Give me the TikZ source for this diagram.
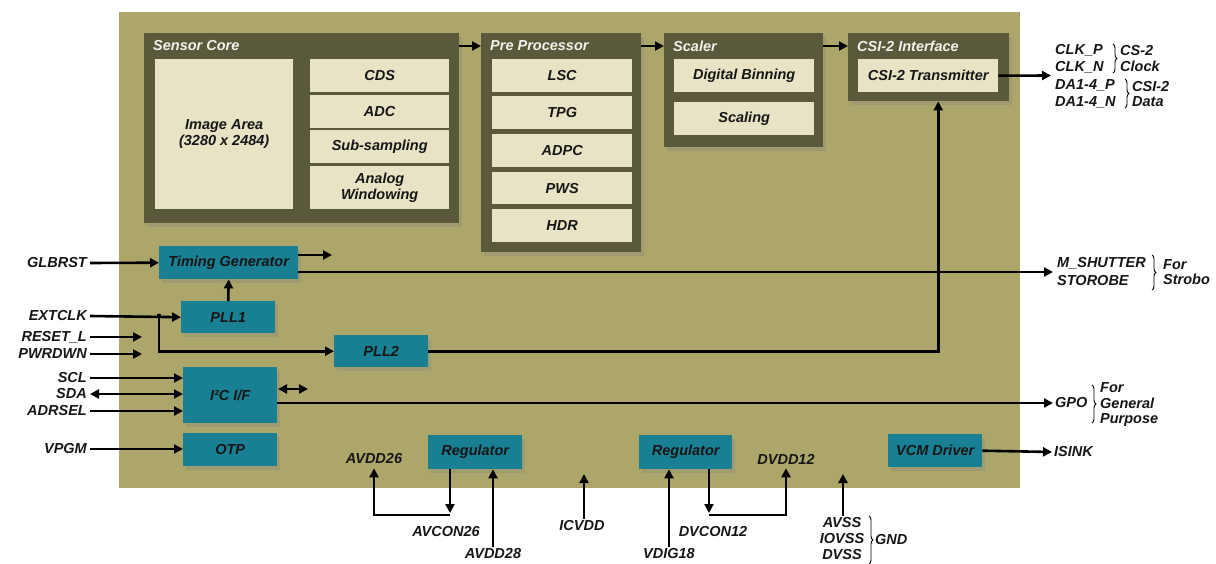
\documentclass[tikz,border=0pt]{standalone}
\usepackage{fontspec}
\setmainfont{Liberation Sans}
\usetikzlibrary{arrows.meta,shadows,decorations.pathreplacing}
\definecolor{chipbg}{HTML}{ADA66A}
\definecolor{chipdark}{HTML}{5A593B}
\definecolor{chiplight}{HTML}{E8E3C5}
\definecolor{chipteal}{HTML}{197F92}
\definecolor{ttltext}{HTML}{F2F2EA}
\definecolor{ink}{HTML}{161616}
\newcommand\boxnode[7]{\node[#1, anchor=north west, minimum width={(#5)-(#3)}, minimum height={(#6)-(#4)}] (#2) at (#3,#4) {#7};}
\tikzset{
  every node/.style={font=\fontsize{14.5}{15.5}\selectfont\bfseries\itshape, text=ink},
  shd/.style={drop shadow={shadow xshift=3pt, shadow yshift=-4pt, opacity=0.3}},
  darkbox/.style={fill=chipdark, draw=none, inner sep=0pt, shd},
  lightbox/.style={fill=chiplight, draw=none, inner sep=0pt, align=center},
  tealbox/.style={fill=chipteal, draw=none, inner sep=0pt, align=center, shd},
  ttl/.style={anchor=west, inner sep=0pt, text=ttltext},
  lbl/.style={inner sep=2pt},
  lblE/.style={anchor=east, inner sep=3pt},
  lblW/.style={anchor=west, inner sep=2pt, align=left},
  arr/.style={line width=2.6pt, -{Triangle[length=9pt,width=9pt]}},
  darr/.style={line width=2.6pt, {Triangle[length=9pt,width=9pt]}-{Triangle[length=9pt,width=9pt]}},
  brc/.style={line width=0.9pt, decorate, decoration={brace, amplitude=4pt}},
}
\begin{document}
\begin{tikzpicture}[x=1pt,y=-1pt]
\useasboundingbox (0,0) rectangle (1216,564);
\boxnode{fill=chipbg, draw=none, inner sep=0pt}{chip}{119}{12}{1020}{488}{}

% Sensor core
\boxnode{darkbox}{sc}{144}{33}{459}{223}{}
\node[ttl] (sct) at (153,46) {Sensor Core};
\boxnode{lightbox}{img}{155}{59}{293}{209}{Image Area\\(3280 x 2484)}
\boxnode{lightbox}{cds}{310}{59}{449}{92}{CDS}
\boxnode{lightbox}{adc}{310}{95}{449}{128}{ADC}
\boxnode{lightbox}{sub}{310}{130}{449}{163}{Sub-sampling}
\boxnode{lightbox}{awin}{310}{166}{449}{209}{Analog\\Windowing}

% Pre processor
\boxnode{darkbox}{pp}{481}{33}{641}{252}{}
\node[ttl] (ppt) at (490,46) {Pre Processor};
\boxnode{lightbox}{lsc}{492}{59}{632}{92}{LSC}
\boxnode{lightbox}{tpg}{492}{96}{632}{129}{TPG}
\boxnode{lightbox}{adpc}{492}{134}{632}{167}{ADPC}
\boxnode{lightbox}{pws}{492}{172}{632}{204}{PWS}
\boxnode{lightbox}{hdr}{492}{209}{632}{242}{HDR}

% Scaler
\boxnode{darkbox}{scl}{664}{33}{823}{147}{}
\node[ttl] (sclt) at (673,46) {Scaler};
\boxnode{lightbox}{dbin}{674}{59}{814}{92}{Digital Binning}
\boxnode{lightbox}{scal}{674}{102}{814}{135}{Scaling}

% CSI-2
\boxnode{darkbox}{csi}{848}{33}{1009}{101}{}
\node[ttl] (csit) at (857,46) {CSI-2 Interface};
\boxnode{lightbox}{tx}{858}{59}{998}{92}{CSI-2 Transmitter}

\draw[arr] ([yshift=-13pt]sc.north east) -- ([yshift=-13pt]pp.north west);
\draw[arr] ([yshift=-13pt]pp.north east) -- ([yshift=-13pt]scl.north west);
\draw[arr] ([yshift=-13pt]scl.north east) -- ([yshift=-13pt]csi.north west);

% teal blocks
\boxnode{tealbox}{tg}{159}{246}{298}{279}{Timing Generator}
\boxnode{tealbox}{pll1}{181}{301}{275}{333}{PLL1}
\boxnode{tealbox}{pll2}{334}{335}{428}{367}{PLL2}
\boxnode{tealbox}{i2c}{183}{367}{277}{423}{I²C I/F}
\boxnode{tealbox}{otp}{183}{433}{277}{466}{OTP}
\boxnode{tealbox}{reg1}{428}{435}{522}{469}{Regulator}
\boxnode{tealbox}{reg2}{639}{435}{732}{469}{Regulator}
\boxnode{tealbox}{vcm}{888}{434}{982}{467}{VCM Driver}

% left labels
\node[lblE] (glbrst) at (90,263) {GLBRST};
\node[lblE] (extclk) at (90,316) {EXTCLK};
\node[lblE] (resetl) at (90,337) {RESET\_L};
\node[lblE] (pwrdwn) at (90,354) {PWRDWN};
\node[lblE] (sclk) at (90,378) {SCL};
\node[lblE] (sda) at (90,394) {SDA};
\node[lblE] (adrsel) at (90,411) {ADRSEL};
\node[lblE] (vpgm) at (90,449) {VPGM};
\coordinate (rst) at (142,337);
\coordinate (pwd) at (142,354);
\coordinate (jn) at (159,316);

\draw[arr] (glbrst.east) -- (tg.west);
\draw[arr] (extclk.east) -- (pll1.west);
\fill (jn) circle (2.4pt);
\draw[arr] (jn) |- (pll2.west);
\draw[arr] (resetl.east) -- (rst);
\draw[arr] (pwrdwn.east) -- (pwd);
\draw[arr] (sclk.east) -- (sclk.east -| i2c.west);
\draw[darr] (sda.east) -- (sda.east -| i2c.west);
\draw[arr] (adrsel.east) -- (adrsel.east -| i2c.west);
\draw[arr] (vpgm.east) -- (vpgm.east -| otp.west);
\draw[arr] (pll1.north) -- (tg.south);

% timing generator outputs
\coordinate (tgstub) at (332,255);
\draw[arr] (tg.east |- tgstub) -- (tgstub);
\node[lblW] (msh) at (1055,263) {M\_SHUTTER};
\node[lblW] (stb) at (1055,281) {STOROBE};
\coordinate (mshtip) at (1053,272);
\draw[arr] (tg.east |- mshtip) -- (mshtip);
\draw[brc] (1152,255) -- (1152,290);
\node[lblW] (forst) at (1161,272) {For\\Strobo};

% PLL2 to CSI
\draw[arr] (pll2.east) -| ([xshift=9.5pt]csi.south);

% CSI outputs
\node[lblW] (clkp) at (1053,50) {CLK\_P};
\node[lblW] (clkn) at (1053,67) {CLK\_N};
\node[lblW] (dap) at (1053,85) {DA1-4\_P};
\node[lblW] (dan) at (1053,102) {DA1-4\_N};
\coordinate (txtip) at (1051,75.5);
\draw[arr] (tx.east) -- (txtip);
\draw[brc] (1113,44) -- (1113,73);
\node[lblW] (csclk) at (1118,58.5) {CS-2\\Clock};
\draw[brc] (1125,79) -- (1125,108);
\node[lblW] (csdata) at (1130,94) {CSI-2\\Data};

% I2C
\coordinate (i2ca) at (278,389);
\coordinate (i2cb) at (308,389);
\draw[darr] (i2ca) -- (i2cb);
\node[lblW] (gpo) at (1053,403) {GPO};
\draw[arr] (i2c.east |- gpo.west) -- (gpo.west);
\draw[brc] (1092,385) -- (1092,423);
\node[lblW] (forgp) at (1098,405) {For\\General\\Purpose};

% VCM
\node[lblW] (isink) at (1052,452) {ISINK};
\draw[arr] (vcm.east) -- (isink.west);

% bottom
\node[lbl] (avdd26) at (374,459) {AVDD26};
\node[lbl] (avcon26) at (446,532) {AVCON26};
\node[lbl] (avdd28) at (493,554) {AVDD28};
\node[lbl] (icvdd) at (582,526) {ICVDD};
\node[lbl] (vdig18) at (669,554) {VDIG18};
\node[lbl] (dvcon12) at (713,532) {DVCON12};
\node[lbl] (dvdd12) at (786,459) {DVDD12};
\node[lbl] (avss) at (842,523) {AVSS};
\node[lbl] (iovss) at (842,539) {IOVSS};
\node[lbl] (dvss) at (842,555) {DVSS};
\draw[brc] (869,516) -- (869,564);
\node[lblW] (gnd) at (873,540) {GND};

\coordinate (avc) at (450,515);
\coordinate (dvc) at (709,515);
\coordinate (ictip) at (584,474);
\coordinate (gndtip) at (843,474);
\draw[arr, shorten >=2pt] (reg1.south -| avc) -- (avc);
\draw[arr, shorten >=2pt] (avc) -| (avdd26.south);
\draw[arr] (avdd28.north) -- (avdd28.north |- reg1.south);
\draw[arr] (icvdd.north -| ictip) -- (ictip);
\draw[arr] (vdig18.north) -- (vdig18.north |- reg2.south);
\draw[arr, shorten >=2pt] (reg2.south -| dvc) -- (dvc);
\draw[arr, shorten >=2pt] (dvc) -| (dvdd12.south);
\draw[arr] (avss.north -| gndtip) -- (gndtip);
\end{tikzpicture}
\end{document}
